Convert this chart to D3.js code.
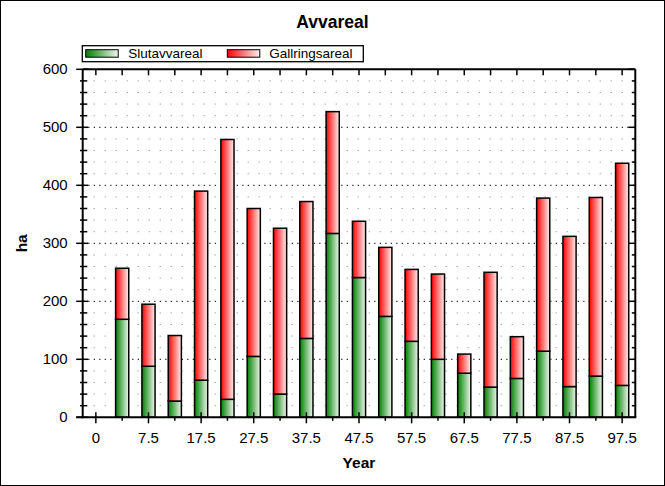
<!DOCTYPE html>
<html>
<head>
<meta charset="utf-8">
<script src="https://cdn.jsdelivr.net/npm/d3@7"></script>
<style>
  html, body { margin: 0; padding: 0; background: #fff; }
  svg { display: block; font-family: Arial, "Liberation Sans", sans-serif; }
</style>
</head>
<body>
<svg id="chart" width="665" height="486"></svg>
<script>
// ---- data ----
const categories = ["0", "2.5", "7.5", "12.5", "17.5", "22.5", "27.5", "32.5", "37.5", "42.5", "47.5",
                    "52.5", "57.5", "62.5", "67.5", "72.5", "77.5", "82.5", "87.5", "92.5", "97.5"];
const slutavvareal   = [0, 169, 88, 28, 64, 31, 105, 40, 136, 317, 241, 174, 131, 100, 76, 52, 67, 114, 53, 71, 55];
const gallringsareal = [0, 88, 107, 113, 326, 448, 255, 286, 236, 210, 97, 119, 124, 147, 33, 198, 72, 264, 259, 308, 383];
const xTickLabels = ["0", "7.5", "17.5", "27.5", "37.5", "47.5", "57.5", "67.5", "77.5", "87.5", "97.5"];
const yTicks = [0, 100, 200, 300, 400, 500, 600];
const seriesNames = ["Slutavvareal", "Gallringsareal"];

const svg = d3.select("#chart");
const W = 665, H = 486;
const L = 82.7, R = 635.3, T = 69.3, B = 417.3;

// gradients
const defs = svg.append("defs");
function grad(id, c0, c1) {
  const g = defs.append("linearGradient").attr("id", id)
    .attr("x1", "0%").attr("x2", "100%").attr("y1", "0%").attr("y2", "0%");
  g.append("stop").attr("offset", "0%").attr("stop-color", c0);
  g.append("stop").attr("offset", "100%").attr("stop-color", c1);
}
grad("gGreen", "#008000", "#eef7ee");
grad("gRed", "#ff0000", "#fff0f0");

// outer border
svg.append("rect").attr("x", 0.5).attr("y", 0.5).attr("width", W - 1).attr("height", H - 1)
  .attr("fill", "#fff").attr("stroke", "#000").attr("stroke-width", 1);

const x = d3.scalePoint().domain(categories).range([L, R]).padding(0.5);
const y = d3.scaleLinear().domain([0, 600]).range([B, T]);
const step = x.step();
const barW = step * 0.5;

// grid
const minorVals = d3.range(20, 600, 20).filter(v => v % 100 !== 0);
svg.append("g").selectAll("line").data(minorVals).join("line")
  .attr("x1", L).attr("x2", R).attr("y1", d => y(d)).attr("y2", d => y(d))
  .attr("stroke", "#808080").attr("stroke-width", 1).attr("stroke-dasharray", "1,10");
svg.append("g").selectAll("line").data(yTicks.filter(v => v > 0 && v < 600)).join("line")
  .attr("x1", L).attr("x2", R).attr("y1", d => y(d)).attr("y2", d => y(d))
  .attr("stroke", "#000").attr("stroke-width", 1).attr("stroke-dasharray", "1.3,4.2");

// bars
const data = categories.map((c, i) => ({ c, s: slutavvareal[i], g: gallringsareal[i] }))
  .filter(d => d.s + d.g > 0);
const bars = svg.append("g");
bars.selectAll("rect.s").data(data).join("rect").attr("class", "s")
  .attr("x", d => x(d.c) - barW / 2).attr("width", barW)
  .attr("y", d => y(d.s)).attr("height", d => y(0) - y(d.s))
  .attr("fill", "url(#gGreen)").attr("stroke", "#000").attr("stroke-width", 1.5);
bars.selectAll("rect.g").data(data).join("rect").attr("class", "g")
  .attr("x", d => x(d.c) - barW / 2).attr("width", barW)
  .attr("y", d => y(d.s + d.g)).attr("height", d => y(d.s) - y(d.s + d.g))
  .attr("fill", "url(#gRed)").attr("stroke", "#000").attr("stroke-width", 1.5);

// frame
const frame = svg.append("g").attr("stroke", "#000").attr("stroke-width", 2).attr("fill", "none");
frame.append("line").attr("x1", L).attr("x2", R).attr("y1", T).attr("y2", T);
frame.append("line").attr("x1", R).attr("x2", R).attr("y1", T).attr("y2", B);
frame.append("line").attr("x1", L).attr("x2", L).attr("y1", T).attr("y2", B + 1);
frame.append("line").attr("x1", L - 6.5).attr("x2", R + 1).attr("y1", B).attr("y2", B);

// y ticks
const allMinor = d3.range(0, 601, 20).filter(v => v % 100 !== 0);
const tk = svg.append("g").attr("stroke", "#000").attr("stroke-width", 1.5);
tk.selectAll("line.ym").data(yTicks).join("line").attr("class", "ym")
  .attr("x1", L - 6.5).attr("x2", L + 5.5).attr("y1", d => y(d)).attr("y2", d => y(d));
tk.selectAll("line.yn").data(allMinor).join("line").attr("class", "yn")
  .attr("x1", L - 2.7).attr("x2", L + 4.6).attr("y1", d => y(d)).attr("y2", d => y(d));
tk.selectAll("line.rm").data(yTicks).join("line").attr("class", "rm")
  .attr("x1", R - 7).attr("x2", R).attr("y1", d => y(d)).attr("y2", d => y(d));
tk.selectAll("line.rn").data(allMinor).join("line").attr("class", "rn")
  .attr("x1", R - 3.5).attr("x2", R).attr("y1", d => y(d)).attr("y2", d => y(d));
// x ticks
tk.selectAll("line.xm").data(categories.filter(c => xTickLabels.includes(c))).join("line").attr("class", "xm")
  .attr("x1", d => x(d)).attr("x2", d => x(d)).attr("y1", B - 5).attr("y2", B + 6);
tk.selectAll("line.xn").data(categories.filter(c => !xTickLabels.includes(c))).join("line").attr("class", "xn")
  .attr("x1", d => x(d)).attr("x2", d => x(d)).attr("y1", B).attr("y2", B + 3.5);
tk.selectAll("line.tm").data(categories).join("line").attr("class", "tm")
  .attr("x1", d => x(d)).attr("x2", d => x(d)).attr("y1", T).attr("y2", T + 6);

// tick labels
svg.append("g").selectAll("text").data(yTicks).join("text")
  .attr("x", 67.7).attr("y", d => y(d) + 4.5).attr("text-anchor", "end")
  .attr("font-size", "15px").attr("fill", "#000").text(d => d);
svg.append("g").selectAll("text").data(xTickLabels).join("text")
  .attr("x", d => x(d)).attr("y", 443).attr("text-anchor", "middle")
  .attr("font-size", "15px").attr("fill", "#000").text(d => d);

// axis titles
svg.append("text").attr("x", (L + R) / 2).attr("y", 468).attr("text-anchor", "middle")
  .attr("font-size", "15.5px").attr("font-weight", "bold").text("Year");
svg.append("text").attr("transform", `translate(26.5,${(T + B) / 2}) rotate(-90)`)
  .attr("text-anchor", "middle").attr("font-size", "15.5px").attr("font-weight", "bold").text("ha");

// title
svg.append("text").attr("x", 332.5).attr("y", 28.3).attr("text-anchor", "middle")
  .attr("font-size", "17.5px").attr("font-weight", "bold").text("Avvareal");

// legend
const lg = svg.append("g");
lg.append("rect").attr("x", 82.3).attr("y", 45.7).attr("width", 281).attr("height", 16)
  .attr("fill", "#fff").attr("stroke", "#000").attr("stroke-width", 1.3);
const swX = [85.7, 227.3], txX = [128.3, 269.3], fills = ["url(#gGreen)", "url(#gRed)"];
seriesNames.forEach((n, i) => {
  lg.append("rect").attr("x", swX[i]).attr("y", 49.7).attr("width", 32.5).attr("height", 7.5)
    .attr("fill", fills[i]).attr("stroke", "#000").attr("stroke-width", 1);
  lg.append("text").attr("x", txX[i]).attr("y", 58.3).attr("font-size", "13.5px").text(n);
});
</script>
</body>
</html>
